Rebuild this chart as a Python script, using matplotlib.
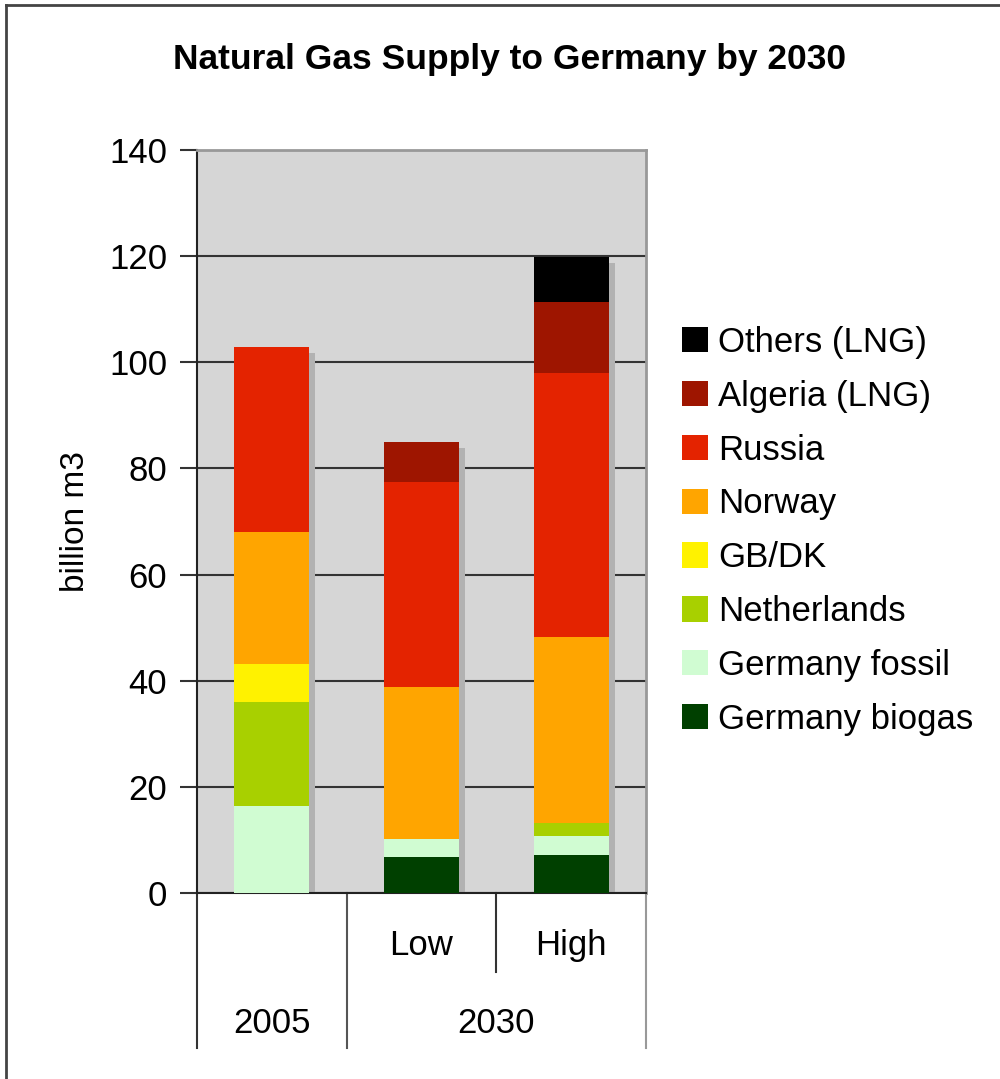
import matplotlib
matplotlib.use("Agg")
import matplotlib.pyplot as plt
import matplotlib.transforms as mtransforms
from matplotlib.patches import Patch
from matplotlib.lines import Line2D
import numpy as np

plt.rcParams['font.family'] = ['Liberation Sans', 'DejaVu Sans']

# data (billion m3), bottom to top
bars = ["2005", "Low", "High"]
series = ["Germany biogas", "Germany fossil", "Netherlands", "GB/DK",
          "Norway", "Russia", "Algeria (LNG)", "Others (LNG)"]
biogas = [0.0, 6.7, 7.1]
fossil = [16.4, 3.4, 3.6]
netherlands = [19.6, 0.0, 2.4]
gb_dk = [7.1, 0.0, 0.0]
norway = [24.9, 28.8, 35.2]
russia = [34.9, 38.5, 49.7]
algeria = [0.0, 7.6, 13.3]
others = [0.0, 0.0, 8.5]
colors = ["#004000", "#d0fcd2", "#a8d000", "#fff200",
          "#ffa500", "#e42300", "#9e1500", "#000000"]

groups = ["2005", "2030"]
sub_labels = ["", "Low", "High"]

values = [biogas, fossil, netherlands, gb_dk, norway, russia, algeria, others]

fig = plt.figure(figsize=(10, 10.79), dpi=100)
ax = fig.add_axes([0.197, 0.1724, 0.449, 0.6886])
ax.set_facecolor("#d6d6d6")

x = np.arange(len(bars))
w = 0.5
totals = np.sum(values, axis=0)

# drop shadow behind each stack
shadow_tr = mtransforms.offset_copy(ax.transData, fig=fig, x=6, y=-6, units='dots')
ax.bar(x, totals, w, color="#b2b2b2", transform=shadow_tr, zorder=2)

bottom = np.zeros(len(bars))
for vals, name, c in zip(values, series, colors):
    ax.bar(x, vals, w, bottom=bottom, color=c, label=name, zorder=3, linewidth=0)
    bottom += np.array(vals)

fs = 25
ax.set_xlim(-0.5, 2.5)
ax.set_ylim(0, 140)
ax.set_yticks(range(0, 141, 20))
ax.yaxis.grid(True, color="#333333", linewidth=1.5, zorder=1)
ax.set_axisbelow(True)
ax.tick_params(axis='y', labelsize=fs, length=12, width=1.5, color="#333333", pad=9.5)
ax.set_xticks([])
for s in ["top", "right"]:
    ax.spines[s].set_color("#999999")
    ax.spines[s].set_linewidth(2)
ax.spines["left"].set_color("#222222")
ax.spines["left"].set_linewidth(1.5)
ax.spines["bottom"].set_color("#222222")
ax.spines["bottom"].set_linewidth(1.5)
ax.set_ylabel("billion m3", fontsize=24, labelpad=13)

# two-level category axis
tr = mtransforms.blended_transform_factory(ax.transData, ax.transAxes)
for xb, yb, col in [(-0.5, -0.2086, "#333333"), (0.5, -0.2086, "#555555"),
                    (1.5, -0.1063, "#333333"), (2.5, -0.2086, "#999999")]:
    ax.add_line(Line2D([xb, xb], [0, yb], transform=tr, color=col,
                       linewidth=1.5, clip_on=False))
for xi, lab in zip(x, sub_labels):
    ax.text(xi, -0.0713, lab, transform=tr, ha='center', va='center', fontsize=fs)
ax.text(0, -0.175, groups[0], transform=tr, ha='center', va='center', fontsize=fs)
ax.text(1.5, -0.175, groups[1], transform=tr, ha='center', va='center', fontsize=fs)

fig.text(0.51, 0.945, "Natural Gas Supply to Germany by 2030", ha='center',
         va='center', fontsize=25.5, fontweight='bold')

handles = [Patch(facecolor=c, edgecolor='none') for c in colors][::-1]
fig.legend(handles, series[::-1], loc='upper left', bbox_to_anchor=(0.682, 0.698),
           frameon=False, fontsize=fs, handlelength=0.75, handleheight=0.75,
           handletextpad=0.28, labelspacing=0.6, borderpad=0, borderaxespad=0)

# outer frame (top and left only)
fig.add_artist(Line2D([0.006, 1.0], [0.9955, 0.9955], color="#444444", linewidth=2))
fig.add_artist(Line2D([0.006, 0.006], [0.0, 0.9955], color="#444444", linewidth=2))

fig.savefig("out.png", dpi=100)
